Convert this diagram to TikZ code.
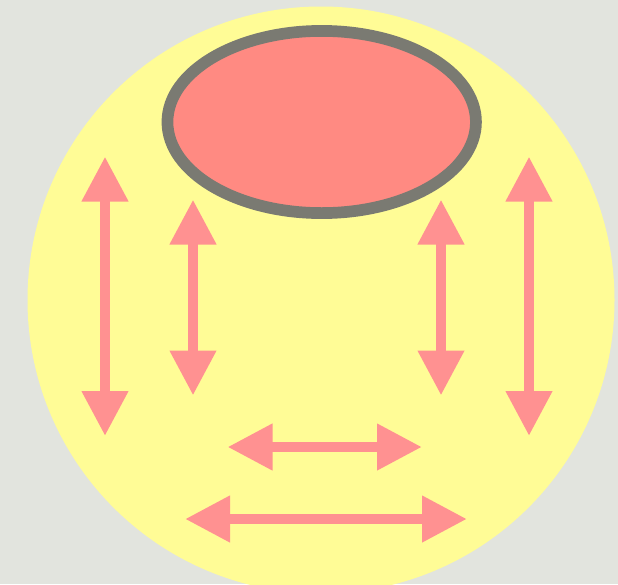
\documentclass[tikz,border=0pt]{standalone}
\usetikzlibrary{arrows.meta,shapes.geometric}
\definecolor{bggray}{RGB}{226,228,222}
\definecolor{sunyellow}{RGB}{255,252,150}
\definecolor{arrowpink}{RGB}{255,145,145}
\definecolor{blobfill}{RGB}{255,138,130}
\definecolor{blobedge}{RGB}{122,122,114}
\begin{document}
\begin{tikzpicture}[x=1pt,y=-1pt,
  dbl/.style={arrowpink,line width=10.5pt,
    {Triangle[width=44pt,length=45pt]}-{Triangle[width=44pt,length=45pt]}}]
\useasboundingbox (0,0) rectangle (618,584);
\fill[bggray] (0,0) rectangle (618,584);
\begin{scope}
\clip (0,0) rectangle (618,584);
\fill[sunyellow] (321,300) circle[radius=293.5];
\end{scope}
\node[draw=blobedge,fill=blobfill,line width=11.7pt,ellipse,
  minimum width=308.5pt,minimum height=182.2pt,inner sep=0pt] (blob) at (321.7,122) {};
% vertical arrows
\coordinate (lo1) at (105,156.5); \coordinate (lo2) at (105,436);
\coordinate (li1) at (193,199.5); \coordinate (li2) at (193,395.5);
\coordinate (ri1) at (441,199.5); \coordinate (ri2) at (441,395.5);
\coordinate (ro1) at (529,156.5); \coordinate (ro2) at (529,436);
\coordinate (hu1) at (227.5,447); \coordinate (hu2) at (422,447);
\coordinate (hl1) at (185,519); \coordinate (hl2) at (467,519);
\draw[dbl] (lo1) -- (lo2);
\draw[dbl] (li1) -- (li2);
\draw[dbl] (ri1) -- (ri2);
\draw[dbl] (ro1) -- (ro2);
\draw[dbl] (hu1) -- (hu2);
\draw[dbl] (hl1) -- (hl2);
\end{tikzpicture}
\end{document}
